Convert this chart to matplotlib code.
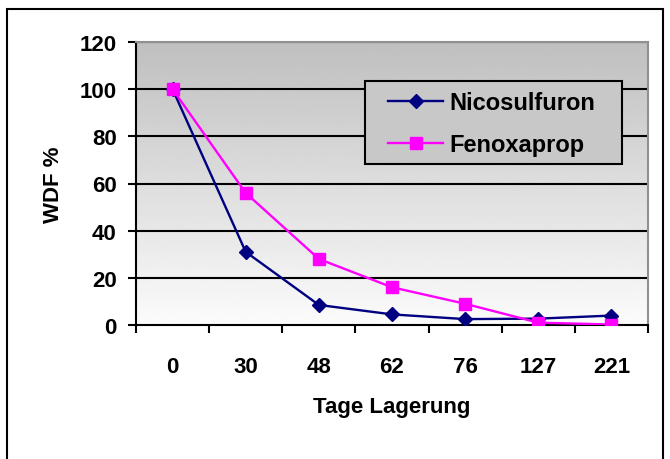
import numpy as np
import matplotlib
matplotlib.use("Agg")
import matplotlib.pyplot as plt
from matplotlib.patches import Rectangle

# storage time (days) and remaining active ingredient (WDF %)
days = ["0", "30", "48", "62", "76", "127", "221"]
nicosulfuron = [100, 31, 8.5, 4.5, 2.5, 2.7, 4.0]
fenoxaprop = [100, 56, 28, 16, 9, 1, 0.2]
y_ticks = [0, 20, 40, 60, 80, 100, 120]

plt.rcParams['font.family'] = ['Liberation Sans', 'DejaVu Sans']
plt.rcParams['font.weight'] = 'bold'

FS = 16

fig = plt.figure(figsize=(6.7, 4.6), dpi=100)
W, H = 670, 460
ax = fig.add_axes([136 / W, 1 - 326 / H, (648 - 136) / W, (326 - 43) / H])

# outer chart frame
fig.patches.append(Rectangle((7 / W, -0.05), (663 - 7) / W, 1.05 - 10 / H,
                             transform=fig.transFigure, fill=False,
                             edgecolor="black", linewidth=1.5, zorder=0))

x = np.arange(len(days))
ax.set_xlim(-0.5, len(days) - 0.5)
ax.set_ylim(0, 120)

# grey-to-white background gradient (dark at top)
grad = np.linspace(0.75, 0.985, 256).reshape(-1, 1)
ax.imshow(grad, cmap="gray", vmin=0, vmax=1, aspect="auto",
          extent=[0, 1, 0, 1], transform=ax.transAxes, zorder=0)

for v in y_ticks[1:]:
    ax.axhline(v, color="black", linewidth=1.5, zorder=1)

ax.plot(x, nicosulfuron, color="#000080", marker="D", markersize=7.5,
        linewidth=1.7, label="Nicosulfuron", zorder=3)
ax.plot(x, fenoxaprop, color="#ff00ff", marker="s", markersize=9,
        linewidth=1.7, label="Fenoxaprop", zorder=4)

ax.set_yticks(y_ticks)
ax.set_yticklabels([str(v) for v in y_ticks], fontsize=FS, fontweight="bold")
ax.set_xticks(np.arange(-0.5, len(days)), labels=[])
ax.set_xticks(x, minor=True)
ax.set_xticklabels(days, minor=True, fontsize=FS, fontweight="bold")
ax.tick_params(axis="x", which="minor", length=0, pad=22)
ax.tick_params(axis="x", which="major", length=6, width=1.5, direction="out")
ax.tick_params(axis="y", length=6, width=1.5, direction="out", pad=8)

for side in ["left", "bottom"]:
    ax.spines[side].set_linewidth(1.5)
    ax.spines[side].set_color("black")
for side in ["top", "right"]:
    ax.spines[side].set_linewidth(1.5)
    ax.spines[side].set_color("#909090")

ax.set_xlabel("Tage Lagerung", fontsize=FS, fontweight="bold", labelpad=14)
ax.set_ylabel("WDF %", fontsize=FS, fontweight="bold", labelpad=11)

# legend box drawn separately so its size can be set freely
box = Rectangle((365 / W, 1 - 165 / H), (622 - 365) / W, (165 - 82) / H,
                transform=fig.transFigure, facecolor="#c8c8c8",
                edgecolor="black", linewidth=1.5, zorder=5)
fig.patches.append(box)
leg = fig.legend(*ax.get_legend_handles_labels(), loc="upper left",
                 bbox_to_anchor=(388 / W, 1 - 92 / H),
                 fontsize=17, frameon=False, borderpad=0,
                 handlelength=2.35, labelspacing=0.8, handletextpad=0.25,
                 borderaxespad=0)
leg.set_zorder(6)
for t in leg.get_texts():
    t.set_fontweight("bold")

fig.savefig("out.png", dpi=100)
